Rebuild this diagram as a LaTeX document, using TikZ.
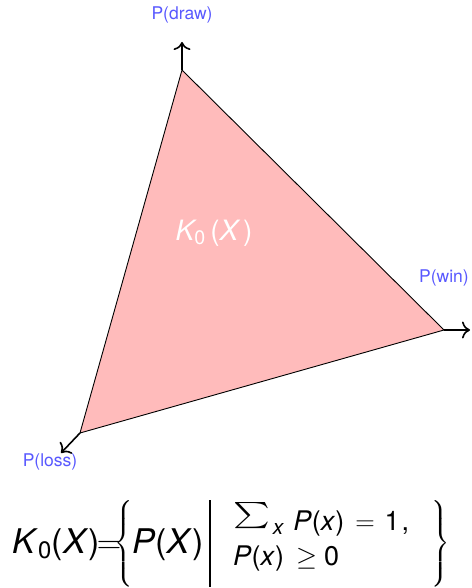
\RequirePackage{fix-cm}
\documentclass[tikz,border=0pt]{standalone}
\usepackage{amsmath}
\usepackage{graphicx}
\usepackage{fontspec}
\setmainfont{TeX Gyre Heros}
\usetikzlibrary{arrows.meta}
\definecolor{pinkfill}{RGB}{255,187,187}
\definecolor{lblue}{RGB}{88,88,255}
\newcommand\hv[1]{\text{\itshape #1}}
\newcommand\tallbrace[1]{\resizebox*{!}{87pt}{$\Bigg#1$}}
\tikzset{
  axis/.style={line width=1.6pt,-{To[length=8pt,width=17pt,line width=1.6pt]}},
  axlabel/.style={text=lblue,font=\fontsize{17.5}{20}\selectfont,inner sep=0pt},
  eqpart/.style={inner sep=0pt,anchor=base west},
  bigfont/.style={font=\fontsize{34}{40}\selectfont},
  rowfont/.style={font=\fontsize{27}{30}\selectfont},
}
\begin{document}
\begin{tikzpicture}[x=1pt,y=-1pt]
\useasboundingbox (0,0) rectangle (471,588);
\coordinate (T) at (182,70);
\coordinate (R) at (444,330);
\coordinate (L) at (80,433);
\coordinate (Ta) at (182,42);
\coordinate (Ra) at (470,330);
\coordinate (La) at (61,453);
\fill[pinkfill,draw=black,line width=0.9pt,line join=round] (T)--(R)--(L)--cycle;
\draw[axis] (T)--(Ta);
\draw[axis] (R)--(Ra);
\draw[axis] (L)--(La);
\node[axlabel] (ld) at (182,15) {P(draw)};
\node[axlabel] (lw) at (444,278) {P(win)};
\node[axlabel] (ll) at (50,462) {P(loss)};
\node[text=white,font=\fontsize{28}{32}\selectfont] (K) at (214,233) {$\hv{K}_{\text{0}}\,\text{(}\hv{X}\,\text{)}$};
% bottom formula
\node[eqpart,bigfont] (fk) at (12,553) {\textit{K}\textsubscript{0}(\textit{X})\hspace{-3pt}$=$};
\node[inner sep=0pt,bigfont] (lb) at (124,543.5) {\tallbrace\{};
\node[eqpart,bigfont] (fp) at (132,553) {\textit{P}(\textit{X})};
\coordinate (bt) at (210,500);
\coordinate (bb) at (210,587);
\draw[line width=1.2pt] (bt) -- (bb);
\node[eqpart,rowfont] (r1) at (233,530) {\raisebox{7pt}{\scalebox{1.4}[1.05]{$\sum$}}\hspace{3pt}\raisebox{-4pt}{\fontsize{21}{24}\selectfont\itshape x}\hspace{10pt}\textit{P}(\textit{x})\hspace{11pt}$=$\hspace{10pt}1\hspace{2pt},};
\node[eqpart,rowfont] (r2) at (233,565) {\textit{P}(\textit{x})\hspace{12pt}$\geq$\hspace{7pt}0};
\node[inner sep=0pt,bigfont] (rb) at (441,543.5) {\tallbrace\}};
\end{tikzpicture}
\end{document}
